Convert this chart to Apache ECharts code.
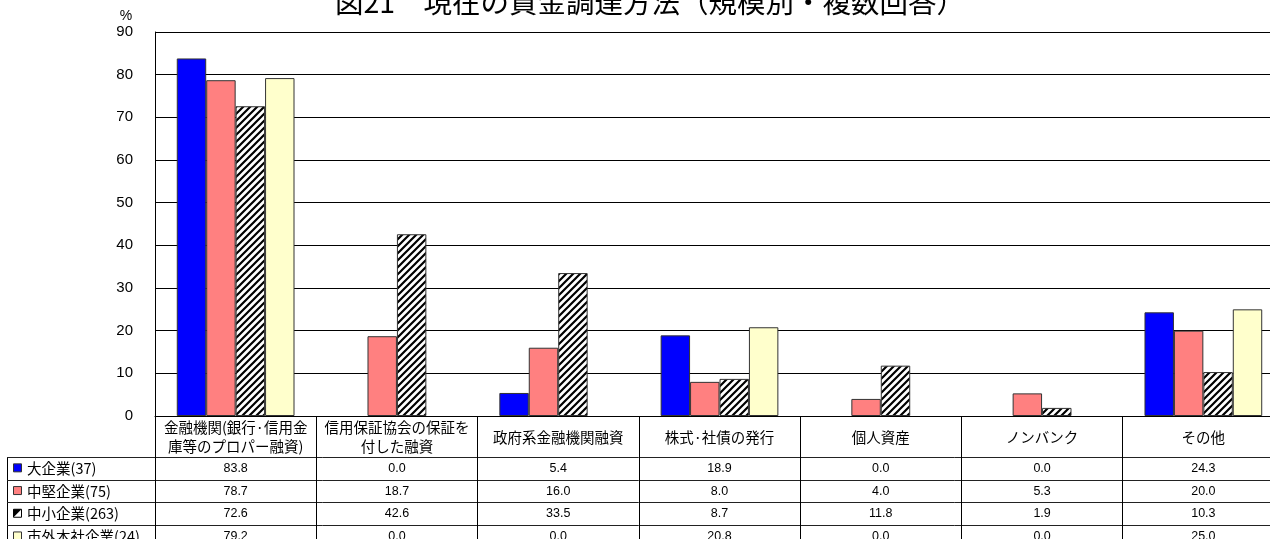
<!DOCTYPE html>
<html>
<head>
<meta charset="utf-8">
<script src="https://cdn.jsdelivr.net/npm/echarts@6/dist/echarts.min.js"></script>
<style>
  html, body { margin: 0; padding: 0; background: #fff; }
  #chart { width: 1270px; height: 539px; }
</style>
</head>
<body>
<div id="chart"></div>
<script>
// 資金調達方法の区分
const categories = [
  '金融機関(銀行·信用金\n庫等のプロパー融資)',
  '信用保証協会の保証を\n付した融資',
  '政府系金融機関融資',
  '株式·社債の発行',
  '個人資産',
  'ノンバンク',
  'その他'
];

// 規模別の回答割合（%）
const seriesNames = ['大企業(37)', '中堅企業(75)', '中小企業(263)', '市外本社企業(24)'];
const largeFirms   = [83.8, 0.0, 5.4, 18.9, 0.0, 0.0, 24.3];
const midFirms     = [78.7, 18.7, 16.0, 8.0, 4.0, 5.3, 20.0];
const smallFirms   = [72.6, 42.6, 33.5, 8.7, 11.8, 1.9, 10.3];
const outsideFirms = [79.2, 0.0, 0.0, 20.8, 0.0, 0.0, 25.0];
const seriesValues = [largeFirms, midFirms, smallFirms, outsideFirms];

const titleText = '図21　現在の資金調達方法（規模別・複数回答）';

const FONT = '"Liberation Sans", Arial, "Noto Sans CJK JP", sans-serif';
const JFONT = '"Noto Sans CJK JP", "Liberation Sans", sans-serif';

// 斜線ハッチング（中小企業）
function hatchCanvas() {
  const c = document.createElement('canvas');
  c.width = 7; c.height = 7;
  const g = c.getContext('2d');
  g.fillStyle = '#fff';
  g.fillRect(0, 0, 7, 7);
  g.strokeStyle = '#000';
  g.lineWidth = 2.2;
  g.beginPath();
  g.moveTo(-1, 8); g.lineTo(8, -1);
  g.moveTo(-8, 8); g.lineTo(1, -1);
  g.moveTo(6, 8); g.lineTo(15, -1);
  g.stroke();
  return c;
}
const hatch = { image: hatchCanvas(), repeat: 'repeat' };
const fills = ['#0000ff', '#ff8080', hatch, '#ffffcc'];

const GRID_LEFT = 155, GRID_TOP = 32, GRID_W = 1129, AXIS_Y = 416;
const ROW_TOP = 457, ROW_H = 22.7;

const chart = echarts.init(document.getElementById('chart'), null, { renderer: 'canvas' });

chart.setOption({
  animation: false,
  backgroundColor: '#fff',
  grid: {
    left: GRID_LEFT, top: GRID_TOP, width: GRID_W, bottom: 539 - AXIS_Y,
    containLabel: false, outerBoundsMode: 'none'
  },
  xAxis: {
    type: 'category',
    data: categories,
    boundaryGap: true,
    axisLine: { show: true, lineStyle: { color: '#000', width: 1 } },
    axisTick: { show: true, interval: 0, length: 539 - AXIS_Y, lineStyle: { color: '#000', width: 1 } },
    axisLabel: {
      interval: 0, margin: 21, verticalAlign: 'middle', align: 'center',
      fontFamily: JFONT, fontSize: 14.5, lineHeight: 19, color: '#000'
    },
    splitLine: { show: false }
  },
  yAxis: {
    type: 'value',
    min: 0, max: 90, interval: 10,
    axisLine: { show: true, lineStyle: { color: '#000', width: 1 } },
    axisTick: { show: false },
    axisLabel: { margin: 22, fontFamily: FONT, fontSize: 15, color: '#000' },
    splitLine: { show: true, lineStyle: { color: '#000', width: 1 } }
  },
  series: seriesNames.map((name, i) => ({
    name,
    type: 'bar',
    // 0% の棒は枠線も描かない
    data: seriesValues[i].map(v => v === 0 ? { value: v, itemStyle: { borderWidth: 0 } } : v),
    barGap: '0%',
    barCategoryGap: '27%',
    itemStyle: { color: fills[i], borderColor: '#333', borderWidth: 1 }
  }))
});

// タイトル・単位・データ表
function buildTable() {
  const els = [];
  els.push({ type: 'text', x: 650, y: 2,
    style: { text: titleText, fontFamily: JFONT, fontSize: 28.5, fill: '#000', align: 'center', verticalAlign: 'middle' } });
  els.push({ type: 'text', x: 126, y: 16,
    style: { text: '%', fontFamily: FONT, fontSize: 14, fill: '#000', align: 'center', verticalAlign: 'middle' } });
  // 凡例列の縦線
  els.push({ type: 'line', shape: { x1: 7.5, y1: ROW_TOP, x2: 7.5, y2: 539 }, style: { stroke: '#000', lineWidth: 1 } });
  // 行の区切り線
  for (let r = 0; r < 4; r++) {
    const y = Math.round(ROW_TOP + r * ROW_H) + 0.5;
    els.push({ type: 'line', shape: { x1: 7, y1: y, x2: 1270, y2: y }, style: { stroke: '#222', lineWidth: 1 } });
  }
  seriesNames.forEach((name, r) => {
    const cy = ROW_TOP + (r + 0.5) * ROW_H;
    // 凡例マーカー
    if (r === 2) {
      els.push({ type: 'rect', shape: { x: 13.5, y: cy - 4.5, width: 8, height: 8 }, style: { fill: '#fff', stroke: '#000', lineWidth: 1 } });
      els.push({ type: 'polygon', shape: { points: [[13.5, cy - 4.5], [21.5, cy - 4.5], [13.5, cy + 3.5]] }, style: { fill: '#000' } });
    } else {
      els.push({ type: 'rect', shape: { x: 13.5, y: cy - 4.5, width: 8, height: 8 }, style: { fill: fills[r], stroke: '#333', lineWidth: 1 } });
    }
    els.push({ type: 'text', x: 27, y: cy,
      style: { text: name, fontFamily: JFONT, fontSize: 14.5, fill: '#000', align: 'left', verticalAlign: 'middle' } });
    // 数値
    seriesValues[r].forEach((v, c) => {
      const px = chart.convertToPixel({ xAxisIndex: 0 }, c);
      els.push({ type: 'text', x: px, y: cy,
        style: { text: v.toFixed(1), fontFamily: FONT, fontSize: 12.5, fill: '#000', align: 'center', verticalAlign: 'middle' } });
    });
  });
  chart.setOption({ graphic: { elements: els } });
}
buildTable();
</script>
</body>
</html>
